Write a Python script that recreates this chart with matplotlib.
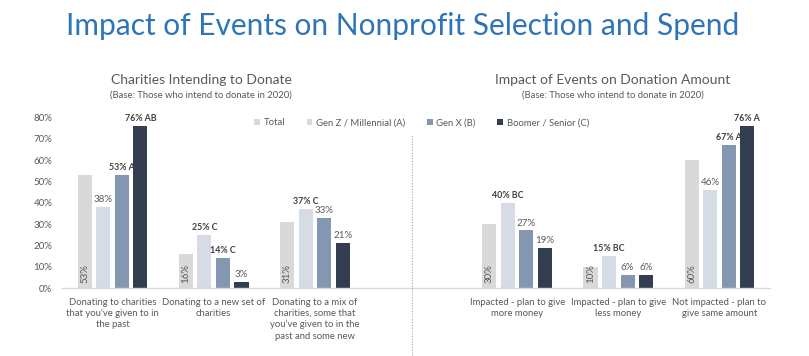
import matplotlib
matplotlib.use('Agg')
import matplotlib.pyplot as plt
from matplotlib.lines import Line2D

# 数据
categories = ['Donating to charities\nthat you\u2019ve given to in\nthe past',
              'Donating to a new set of\ncharities',
              'Donating to a mix of\ncharities, some that\nyou\u2019ve given to in the\npast and some new',
              'Impacted - plan to give\nmore money',
              'Impacted - plan to give\nless money',
              'Not impacted - plan to\ngive same amount']
positions = [0, 1, 2, 4, 5, 6]

series_names = ['Total', 'Gen Z / Millennial (A)', 'Gen X (B)', 'Boomer / Senior (C)']
total = [53, 16, 31, 30, 10, 60]
genz = [38, 25, 37, 40, 15, 46]
genx = [53, 14, 33, 27, 6, 67]
boomer = [76, 3, 21, 19, 6, 76]
sig_genz = ['', 'C', 'C', 'BC', 'BC', '']
sig_genx = ['A', 'C', '', '', '', 'A']
sig_boomer = ['AB', '', '', '', '', 'A']

colors = ['#d9d9d9', '#d6dce5', '#8497b0', '#333f50']
grey = '#595959'
font = 'Lato'

W, H = 809, 356
fig = plt.figure(figsize=(W / 100, H / 100), dpi=100)
ax = fig.add_axes([62 / W, 1 - 288 / H, (770 - 62) / W, (288 - 117.5) / H])

step = 0.183
width = 0.139
series = [total, genz, genx, boomer]
sigs = [None, sig_genz, sig_genx, sig_boomer]
for i, (vals, col, name) in enumerate(zip(series, colors, series_names)):
    xs = [p + (i - 1.5) * step for p in positions]
    ax.bar(xs, vals, width=width, color=col, label=name)
    for j, (x, v) in enumerate(zip(xs, vals)):
        if i == 0:
            # Total 的标签竖排放在柱子底部
            ax.annotate(f'{v}%', xy=(x, 0), xytext=(0, 3.5), textcoords='offset points',
                        rotation=90, ha='center', va='bottom', fontsize=7,
                        color=grey, family=font)
        else:
            s = sigs[i][j]
            txt = f'{v}% {s}' if s else f'{v}%'
            ax.annotate(txt, xy=(x, v), xytext=(0, 2), textcoords='offset points',
                        ha='center', va='bottom', fontsize=6.4 if s else 7, family=font,
                        color='#404040' if s else grey,
                        fontweight='bold' if s else 'normal')

ax.set_xlim(-0.5, 6.5)
ax.set_ylim(0, 80)
ax.set_yticks(range(0, 81, 10))
ax.set_yticklabels([f'{t}%' for t in range(0, 81, 10)], fontsize=7, color=grey, family=font)
ax.set_xticks(positions)
ax.set_xticklabels(categories, fontsize=6.8, color=grey, family=font, linespacing=1.3)
ax.tick_params(axis='both', length=0)
ax.tick_params(axis='y', pad=7)
ax.tick_params(axis='x', pad=7)
for s in ['top', 'right', 'left']:
    ax.spines[s].set_visible(False)
ax.spines['bottom'].set_color('#d9d9d9')
ax.spines['bottom'].set_linewidth(1)

# 分隔虚线
fig.add_artist(Line2D([412 / W, 412 / W], [0, 1 - 135 / H], transform=fig.transFigure,
                      color='#a6a6a6', linestyle=(0, (1, 1.5)), linewidth=0.8))

# 标题
fig.text(403 / W, 1 - 26 / H, 'Impact of Events on Nonprofit Selection and Spend',
         ha='center', va='center', fontsize=21.5, color='#2e75b6', family=font)
fig.text(201 / W, 1 - 80 / H, 'Charities Intending to Donate', ha='center', va='center',
         fontsize=10, color=grey, family=font)
fig.text(201 / W, 1 - 95.5 / H, '(Base: Those who intend to donate in 2020)', ha='center',
         va='center', fontsize=6.8, color=grey, family=font)
fig.text(612.5 / W, 1 - 80 / H, 'Impact of Events on Donation Amount', ha='center', va='center',
         fontsize=10, color=grey, family=font)
fig.text(612.5 / W, 1 - 95.5 / H, '(Base: Those who intend to donate in 2020)', ha='center',
         va='center', fontsize=6.8, color=grey, family=font)

leg = ax.legend(ncol=4, frameon=False, loc='center', bbox_to_anchor=(421.5 / W, 1 - 122.7 / H),
                bbox_transform=fig.transFigure, handlelength=0.6, handleheight=0.6,
                handletextpad=0.4, columnspacing=2.3, prop={'family': font, 'size': 6.8})
for t in leg.get_texts():
    t.set_color(grey)

fig.savefig('out.png', dpi=100)
